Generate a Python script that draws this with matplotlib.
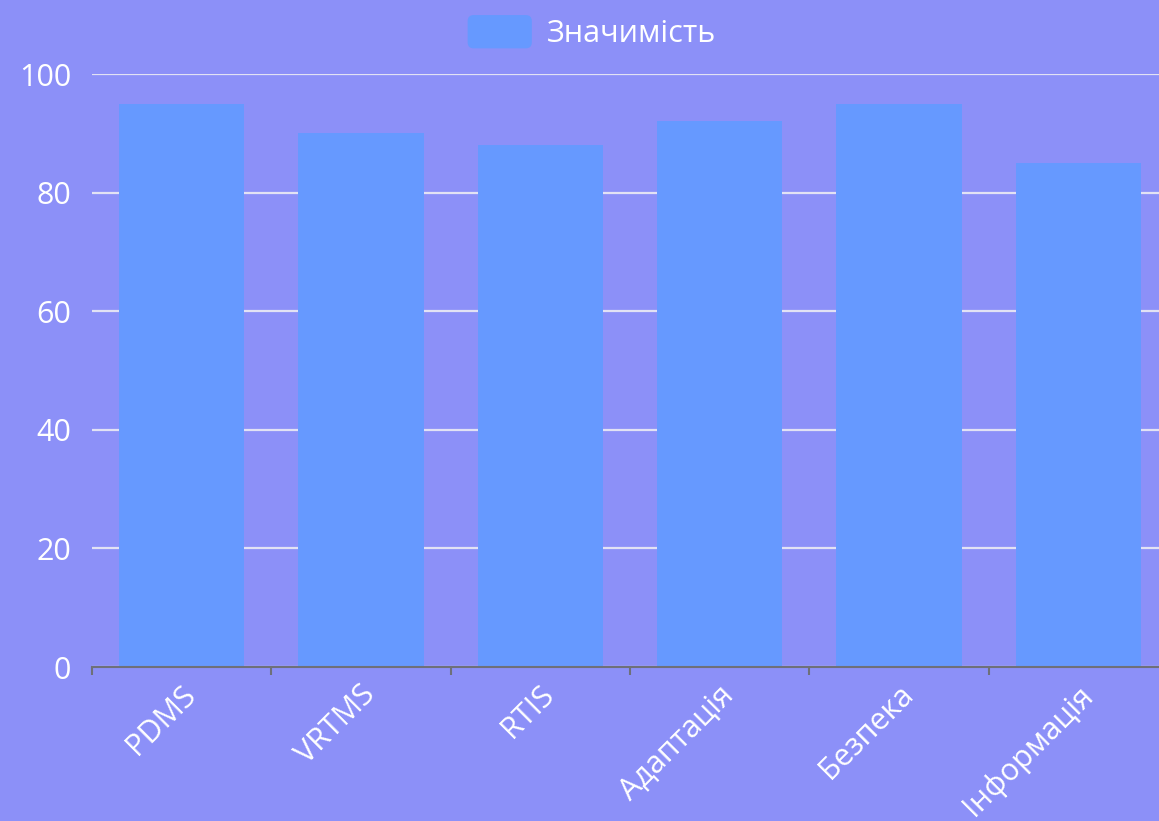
import matplotlib
matplotlib.use("Agg")
import matplotlib.pyplot as plt
from matplotlib.patches import Patch, FancyBboxPatch
from matplotlib.legend_handler import HandlerPatch

categories = ["PDMS", "VRTMS", "RTIS", "Адаптація", "Безпека", "Інформація"]
values = [95, 90, 88, 92, 95, 85]
series_name = "Значимість"
y_ticks = [0, 20, 40, 60, 80, 100]

plt.rcParams['font.family'] = ['Open Sans', 'DejaVu Sans']

bg = "#8C90F8"
bar_color = "#6699FF"

W, H = 1159, 821
fig = plt.figure(figsize=(W / 100, H / 100), dpi=100, facecolor=bg)
x0, x1 = 92, 1168
y_top, y_bot = 74, 667
ax = fig.add_axes([x0 / W, (H - y_bot) / H, (x1 - x0) / W, (y_bot - y_top) / H])
ax.set_facecolor(bg)

xs = list(range(len(categories)))
ax.bar(xs, values, width=0.7, color=bar_color, zorder=2)

ax.set_xlim(-0.5, len(categories) - 0.5)
ax.set_ylim(0, 100)
ax.set_yticks(y_ticks)
ax.set_yticklabels([str(t) for t in y_ticks], color="white", fontsize=22)
ax.yaxis.grid(True, color="#E2E2F4", linewidth=1.6, zorder=1)
ax.tick_params(axis='y', length=0, pad=15)

ax.set_xticks(xs)
ax.set_xticklabels(categories, rotation=45, ha='right', va='top',
                   rotation_mode='anchor', color="white", fontsize=22)
ax.set_xticks([x - 0.5 for x in range(len(categories) + 1)], minor=True)
ax.tick_params(axis='x', which='major', length=0, pad=9)
ax.tick_params(axis='x', which='minor', length=6, width=1.5, color="#6E7079")
for lbl in ax.get_xticklabels():
    lbl.set_transform(lbl.get_transform() + matplotlib.transforms.ScaledTranslation(-0.01, 0, fig.dpi_scale_trans))

for s in ['top', 'right', 'left']:
    ax.spines[s].set_visible(False)
ax.spines['bottom'].set_color("#6E7079")
ax.spines['bottom'].set_linewidth(1.5)
ax.spines['bottom'].set_zorder(3)


class RoundHandler(HandlerPatch):
    def create_artists(self, legend, orig_handle, xdescent, ydescent, width, height, fontsize, trans):
        p = FancyBboxPatch((-xdescent, -ydescent), width, height,
                           boxstyle="round,pad=0,rounding_size=%f" % (height * 0.18),
                           facecolor=orig_handle.get_facecolor(), edgecolor='none', transform=trans)
        return [p]


handle = Patch(facecolor=bar_color, edgecolor=bar_color, label=series_name)
fig.legend(handles=[handle], loc='center', bbox_to_anchor=(592 / W, 1 - 32 / H),
           frameon=False, fontsize=22, labelcolor="white",
           handlelength=2.1, handleheight=1.3, handletextpad=0.5,
           handler_map={Patch: RoundHandler()})

fig.savefig("out.png", dpi=100, facecolor=bg)
